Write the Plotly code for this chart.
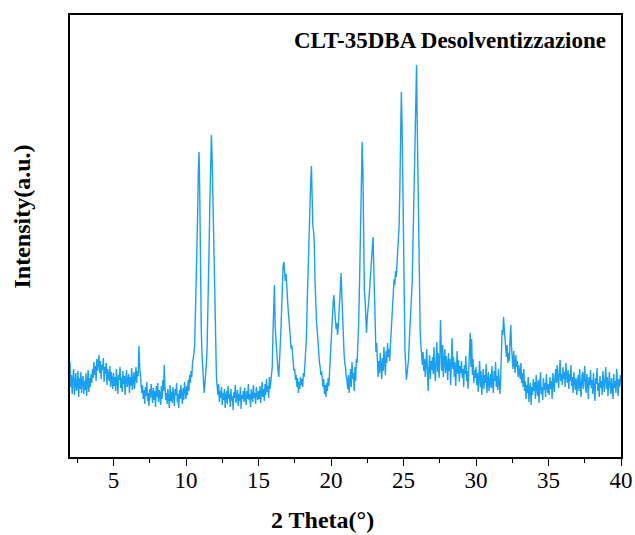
import numpy as np
import plotly.graph_objects as go

# Powder XRD scan of CLT-35DBA after desolvation, 2θ = 2–40°, 0.05° step
SCAN_START = 2.0
SCAN_STEP = 0.05

# Intensity (a.u.), one row per degree of 2θ (20 readings per row)
rows = [
    # 2°
    [95, 70, 82, 63, 78, 88, 62, 75, 84, 66, 72, 86, 60, 79, 68, 85, 64, 77, 81, 63],
    # 3°
    [76, 67, 84, 61, 73, 87, 65, 79, 70, 83, 74, 88, 79, 95, 82, 91, 76, 98, 86, 93],
    # 4°
    [102, 84, 96, 78, 92, 87, 99, 75, 90, 83, 94, 72, 88, 81, 76, 91, 70, 85, 79, 68],
    # 5°
    [84, 71, 80, 66, 88, 74, 63, 82, 77, 90, 69, 79, 65, 86, 73, 81, 62, 78, 87, 70],
    # 6°
    [75, 83, 64, 80, 71, 89, 67, 77, 85, 68, 79, 90, 74, 86, 81, 111, 92, 78, 70, 64],
    # 7°
    [72, 58, 67, 53, 70, 61, 75, 56, 64, 51, 68, 59, 73, 62, 54, 69, 57, 66, 50, 71],
    # 8°
    [60, 74, 55, 67, 63, 52, 71, 58, 77, 66, 92, 70, 57, 64, 53, 68, 60, 49, 72, 56],
    # 9°
    [65, 54, 70, 59, 51, 68, 62, 74, 55, 63, 49, 67, 58, 72, 61, 53, 69, 57, 75, 64],
    # 10°
    [58, 71, 62, 77, 66, 82, 74, 86, 80, 94, 98, 104, 112, 140, 185, 205, 240, 285, 305, 262],
    # 11°
    [172, 130, 104, 87, 70, 64, 72, 80, 92, 106, 135, 170, 215, 258, 298, 322, 300, 262, 215, 160],
    # 12°
    [118, 95, 80, 70, 62, 73, 55, 66, 59, 70, 52, 64, 57, 68, 49, 61, 66, 53, 71, 58],
    # 13°
    [63, 50, 68, 56, 61, 47, 65, 59, 72, 54, 60, 67, 51, 63, 56, 70, 48, 62, 58, 66],
    # 14°
    [55, 69, 60, 52, 66, 58, 73, 57, 63, 50, 68, 61, 55, 72, 59, 64, 53, 70, 62, 57],
    # 15°
    [66, 58, 71, 54, 63, 75, 60, 68, 56, 73, 62, 78, 65, 71, 59, 80, 68, 76, 84, 90],
    # 16°
    [125, 150, 172, 130, 117, 105, 97, 85, 80, 92, 110, 128, 150, 178, 192, 195, 185, 176, 183, 165],
    # 17°
    [157, 146, 138, 125, 118, 108, 112, 98, 94, 86, 88, 77, 82, 70, 79, 64, 75, 68, 80, 72],
    # 18°
    [78, 70, 84, 80, 92, 100, 118, 150, 180, 194, 215, 245, 275, 291, 250, 230, 226, 212, 175, 150],
    # 19°
    [135, 127, 112, 107, 95, 90, 82, 86, 76, 70, 78, 63, 72, 60, 74, 66, 79, 71, 85, 96],
    # 20°
    [108, 122, 140, 155, 162, 148, 138, 128, 134, 122, 130, 145, 160, 172, 184, 160, 134, 118, 104, 94],
    # 21°
    [90, 80, 77, 68, 82, 64, 74, 88, 70, 95, 78, 84, 66, 90, 76, 98, 94, 108, 130, 160],
    # 22°
    [210, 260, 300, 315, 287, 220, 168, 157, 130, 124, 140, 146, 155, 165, 176, 186, 200, 215, 220, 190],
    # 23°
    [152, 127, 105, 114, 92, 80, 96, 84, 104, 90, 78, 99, 86, 110, 92, 82, 106, 94, 114, 100],
    # 24°
    [108, 96, 112, 124, 134, 150, 165, 178, 172, 186, 180, 192, 200, 215, 232, 270, 310, 365, 335, 268],
    # 25°
    [198, 140, 108, 92, 77, 84, 92, 98, 116, 128, 148, 158, 175, 210, 255, 300, 340, 375, 392, 330],
    # 26°
    [268, 200, 160, 126, 112, 100, 92, 105, 86, 98, 80, 94, 108, 84, 66, 90, 102, 78, 96, 87],
    # 27°
    [100, 83, 110, 88, 76, 97, 115, 85, 104, 79, 92, 137, 99, 86, 112, 80, 95, 108, 84, 101],
    # 28°
    [90, 77, 104, 86, 98, 72, 93, 119, 88, 100, 80, 95, 71, 89, 106, 83, 97, 75, 91, 84],
    # 29°
    [96, 79, 88, 70, 92, 83, 101, 76, 86, 68, 94, 109, 124, 90, 118, 82, 98, 74, 87, 79],
    # 30°
    [90, 72, 84, 65, 80, 96, 70, 86, 62, 78, 88, 68, 82, 74, 93, 64, 79, 85, 66, 77],
    # 31°
    [83, 69, 91, 73, 64, 86, 76, 95, 70, 81, 67, 88, 74, 63, 78, 105, 127, 122, 140, 128],
    # 32°
    [117, 108, 100, 112, 94, 104, 96, 118, 132, 110, 100, 88, 106, 92, 84, 102, 90, 96, 80, 92],
    # 33°
    [86, 78, 94, 74, 84, 70, 88, 66, 76, 58, 72, 64, 80, 55, 68, 74, 52, 70, 62, 78],
    # 34°
    [66, 75, 58, 82, 69, 61, 77, 54, 72, 85, 63, 70, 57, 79, 67, 74, 60, 83, 71, 64],
    # 35°
    [73, 62, 80, 68, 76, 58, 84, 70, 65, 81, 88, 74, 92, 79, 69, 86, 97, 76, 83, 72],
    # 36°
    [90, 78, 85, 70, 94, 81, 74, 87, 68, 83, 76, 92, 71, 80, 64, 85, 73, 67, 79, 62],
    # 37°
    [74, 82, 66, 88, 71, 60, 79, 85, 68, 77, 91, 70, 64, 83, 75, 58, 80, 72, 87, 69],
    # 38°
    [77, 63, 84, 70, 56, 79, 73, 89, 66, 74, 60, 81, 69, 76, 62, 86, 71, 65, 78, 90],
    # 39°
    [68, 80, 61, 74, 85, 70, 63, 79, 72, 58, 83, 69, 76, 64, 88, 73, 61, 78, 70, 82],
    # 40°
    [72],
]

intensity = [v for row in rows for v in row]
two_theta = np.round(SCAN_START + SCAN_STEP * np.arange(len(intensity)), 2)

x_ticks = [5, 10, 15, 20, 25, 30, 35, 40]
sample_label = "CLT-35DBA Desolventizzazione"

SERIF = "Liberation Serif, Times New Roman, serif"

fig = go.Figure(
    go.Scatter(
        x=two_theta,
        y=intensity,
        mode="lines",
        line=dict(color="#1AA0F2", width=1.4),
        showlegend=False,
        hoverinfo="skip",
    )
)

fig.update_layout(
    width=635,
    height=535,
    margin=dict(l=70, r=14, t=15, b=78, autoexpand=False),
    paper_bgcolor="white",
    plot_bgcolor="white",
    font=dict(family=SERIF, color="black"),
)

fig.update_xaxes(
    range=[2, 40],
    tickvals=x_ticks,
    ticks="outside",
    ticklen=7,
    tickwidth=1.3,
    tickcolor="black",
    tickfont=dict(size=23, family=SERIF),
    ticklabelstandoff=-5,
    minor=dict(ticks="outside", ticklen=4, tickwidth=1.2, tickcolor="black", tick0=2.5, dtick=5),
    showline=True,
    linecolor="black",
    linewidth=1.6,
    mirror=True,
    showgrid=False,
    zeroline=False,
    automargin=False,
)

fig.update_yaxes(
    range=[0, 442],
    showticklabels=False,
    ticks="",
    showline=True,
    linecolor="black",
    linewidth=1.6,
    mirror=True,
    showgrid=False,
    zeroline=False,
    automargin=False,
)

# Axis titles and sample label
fig.add_annotation(
    text="<b>2 Theta(°)</b>", xref="paper", yref="paper",
    x=0.459, y=-0.143, xanchor="center", yanchor="middle",
    showarrow=False, font=dict(size=24, family=SERIF),
)
fig.add_annotation(
    text="<b>Intensity(a.u.)</b>", xref="paper", yref="paper",
    x=-0.088, y=0.543, xanchor="center", yanchor="middle", textangle=-90,
    showarrow=False, font=dict(size=24, family=SERIF),
)
fig.add_annotation(
    text=f"<b>{sample_label}</b>", xref="paper", yref="paper",
    x=0.976, y=0.943, xanchor="right", yanchor="middle",
    showarrow=False, font=dict(size=23, family=SERIF),
)

fig.write_html("out.html")
